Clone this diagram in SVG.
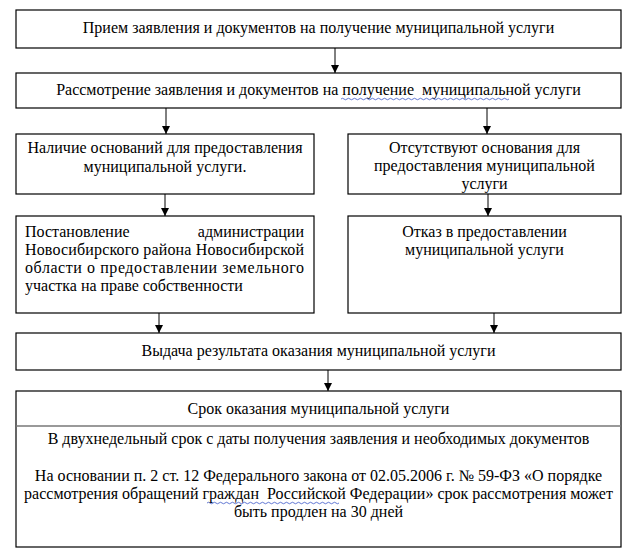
<svg xmlns="http://www.w3.org/2000/svg" width="628" height="556" viewBox="0 0 628 556">
<rect width="628" height="556" fill="#fff"/>
<g id="connectors" stroke="#000" stroke-width="1" fill="#000">
<line x1="335" y1="48" x2="335" y2="73"/>
<path stroke="none" d="M331,65 L339,65 L335,73 Z"/>
<line x1="166" y1="108" x2="166" y2="134"/>
<path stroke="none" d="M162,126 L170,126 L166,134 Z"/>
<line x1="487" y1="108" x2="487" y2="134"/>
<path stroke="none" d="M483,126 L491,126 L487,134 Z"/>
<line x1="165" y1="194" x2="165" y2="216"/>
<path stroke="none" d="M161,208 L169,208 L165,216 Z"/>
<line x1="488" y1="194" x2="488" y2="216"/>
<path stroke="none" d="M484,208 L492,208 L488,216 Z"/>
<line x1="159" y1="313" x2="159" y2="333"/>
<path stroke="none" d="M155,325 L163,325 L159,333 Z"/>
<line x1="494" y1="313" x2="494" y2="333"/>
<path stroke="none" d="M490,325 L498,325 L494,333 Z"/>
<line x1="328" y1="370" x2="328" y2="391"/>
<path stroke="none" d="M324,383 L332,383 L328,391 Z"/>
</g>
<g id="n1">
<rect x="16" y="10" width="605" height="38" fill="#fff" stroke="#000" stroke-width="1.2"/>
<text font-family="Liberation Serif" font-size="16" text-anchor="middle" x="318.5" y="33">Прием заявления и документов на получение муниципальной услуги</text>
</g>
<g id="n2">
<rect x="16" y="73" width="605" height="35" fill="#fff" stroke="#000" stroke-width="1.2"/>
<text font-family="Liberation Serif" font-size="16" text-anchor="middle" x="318.5" y="95">Рассмотрение заявления и документов на получение&#160; муниципальной услуги</text>
<path fill="none" stroke="#3a55c8" stroke-width="0.8" d="M341,99 q1.5,-1.5 3,0 t3,0 t3,0 t3,0 t3,0 t3,0 t3,0 t3,0 t3,0 t3,0 t3,0 t3,0 t3,0 t3,0 t3,0 t3,0 t3,0 t3,0 t3,0 t3,0 t3,0 t3,0 t3,0 t3,0 t3,0 t3,0 t3,0 t3,0 t3,0 t3,0 t3,0 t3,0 t3,0 t3,0 t3,0 t3,0 t3,0 t3,0 t3,0 t3,0 t3,0 t3,0 t3,0 t3,0 t3,0 t3,0 t3,0 t3,0 t3,0 t3,0 t3,0 t3,0 t3,0 t3,0 t3,0 t3,0"/>
</g>
<g id="n3">
<rect x="16" y="134" width="298" height="60" fill="#fff" stroke="#000" stroke-width="1.2"/>
<text font-family="Liberation Serif" font-size="16" text-anchor="middle" x="165" y="153">Наличие оснований для предоставления</text>
<text font-family="Liberation Serif" font-size="16" text-anchor="middle" x="165" y="171.5">муниципальной услуги.</text>
</g>
<g id="n4">
<rect x="348" y="134" width="273" height="60" fill="#fff" stroke="#000" stroke-width="1.2"/>
<text font-family="Liberation Serif" font-size="16" text-anchor="middle" x="484.5" y="153">Отсутствуют основания для</text>
<text font-family="Liberation Serif" font-size="16" text-anchor="middle" x="484.5" y="171">предоставления муниципальной</text>
<text font-family="Liberation Serif" font-size="16" text-anchor="middle" x="484.5" y="189">услуги</text>
</g>
<g id="n5">
<rect x="16" y="216" width="298" height="97" fill="#fff" stroke="#000" stroke-width="1.2"/>
<text font-family="Liberation Serif" font-size="16" x="25" y="237">Постановление</text>
<text font-family="Liberation Serif" font-size="16" text-anchor="end" x="304" y="237">администрации</text>
<text font-family="Liberation Serif" font-size="16" x="25" y="255" textLength="279" lengthAdjust="spacing">Новосибирского района Новосибирской</text>
<text font-family="Liberation Serif" font-size="16" x="25" y="273" textLength="279" lengthAdjust="spacing">области о предоставлении земельного</text>
<text font-family="Liberation Serif" font-size="16" x="25" y="291">участка на праве собственности</text>
</g>
<g id="n6">
<rect x="348" y="216" width="273" height="97" fill="#fff" stroke="#000" stroke-width="1.2"/>
<text font-family="Liberation Serif" font-size="16" text-anchor="middle" x="484.5" y="237">Отказ в предоставлении</text>
<text font-family="Liberation Serif" font-size="16" text-anchor="middle" x="484.5" y="255">муниципальной услуги</text>
</g>
<g id="n7">
<rect x="16" y="333" width="605" height="37" fill="#fff" stroke="#000" stroke-width="1.2"/>
<text font-family="Liberation Serif" font-size="16" text-anchor="middle" x="318.5" y="356">Выдача результата оказания муниципальной услуги</text>
</g>
<g id="n8">
<rect x="16" y="391" width="605" height="156" fill="#fff" stroke="#000" stroke-width="1.2"/>
<line x1="16" y1="426" x2="621" y2="426" stroke="#777" stroke-width="1.5"/>
<text font-family="Liberation Serif" font-size="16" text-anchor="middle" x="318.5" y="414">Срок оказания муниципальной услуги</text>
<text font-family="Liberation Serif" font-size="16" text-anchor="middle" x="318.5" y="444">В двухнедельный срок с даты получения заявления и необходимых документов</text>
<text font-family="Liberation Serif" font-size="16" text-anchor="middle" x="318.5" y="481">На основании п. 2 ст. 12 Федерального закона от 02.05.2006 г. № 59-ФЗ «О порядке</text>
<text font-family="Liberation Serif" font-size="16" text-anchor="middle" x="318.5" y="499">рассмотрения обращений граждан&#160; Российской Федерации» срок рассмотрения может</text>
<path fill="none" stroke="#3a55c8" stroke-width="0.8" d="M207,503 q1.5,-1.5 3,0 t3,0 t3,0 t3,0 t3,0 t3,0 t3,0 t3,0 t3,0 t3,0 t3,0 t3,0 t3,0 t3,0 t3,0 t3,0 t3,0 t3,0 t3,0 t3,0 t3,0 t3,0 t3,0 t3,0 t3,0 t3,0 t3,0 t3,0 t3,0 t3,0 t3,0 t3,0 t3,0 t3,0 t3,0 t3,0 t3,0 t3,0 t3,0 t3,0 t3,0 t3,0 t3,0 t3,0"/>
<text font-family="Liberation Serif" font-size="16" text-anchor="middle" x="318.5" y="517">быть продлен на 30 дней</text>
</g>
</svg>
